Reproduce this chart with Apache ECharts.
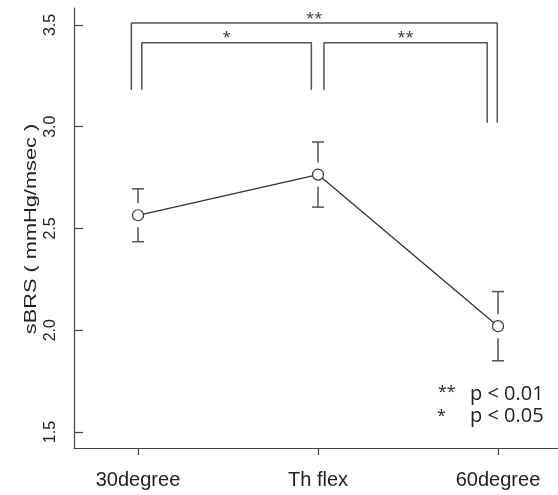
<!DOCTYPE html>
<html>
<head>
<meta charset="utf-8">
<script src="https://cdn.jsdelivr.net/npm/echarts@6/dist/echarts.min.js"></script>
<style>
html,body{margin:0;padding:0;background:#fff;}
#c{width:558px;height:495px;}
</style>
</head>
<body>
<div id="c"></div>
<script>
// ---- data ----
const categories = ['30degree', 'Th flex', '60degree'];
const catPos = [1, 2, 3];
const means = [2.565, 2.765, 2.02];
const upper = [2.695, 2.925, 2.19];
const lower = [2.435, 2.605, 1.85];
const yTicks = [1.5, 2.0, 2.5, 3.0, 3.5];
const yTitle = 'sBRS ( mmHg/msec )';
// significance brackets
const bracketLeft = [0.963, 1.021, 2.033];
const bracketRight = [2.996, 1.963, 2.94];
const bracketTop = [3.51, 3.413, 3.413];
const bracketLeftEnd = [3.18, 3.18, 3.18];
const bracketRightEnd = [3.02, 3.18, 3.02];
const bracketLabels = ['**', '*', '**'];
const legendMarks = ['**', '*'];
const legendTexts = ['p < 0.01', 'p < 0.05'];

const chart = echarts.init(document.getElementById('c'), null, {renderer: 'canvas'});

const lineColor = '#444';
const textColor = '#222';

const meanData = catPos.map((x, i) => [x, means[i]]);
const errData = catPos.map((x, i) => [x, means[i], lower[i], upper[i]]);

const bracketSeries = bracketLeft.map((xl, i) => ({
  type: 'line',
  data: [[xl, bracketLeftEnd[i]], [xl, bracketTop[i]], [bracketRight[i], bracketTop[i]], [bracketRight[i], bracketRightEnd[i]]],
  symbol: 'none',
  lineStyle: {color: '#555', width: 1.5},
  silent: true,
  z: 1
}));

const starData = bracketLeft.map((xl, i) => [(xl + bracketRight[i]) / 2, bracketTop[i], bracketLabels[i]]);

chart.setOption({
  animation: false,
  grid: {left: 74, right: 0, top: 8, bottom: 47},
  xAxis: {
    type: 'value',
    min: 0.6444,
    max: 3.3333,
    splitLine: {show: false},
    axisLine: {show: true, lineStyle: {color: lineColor, width: 1.2}},
    axisTick: {show: true, length: 7, customValues: catPos, lineStyle: {color: lineColor, width: 1.2}},
    axisLabel: {
      customValues: catPos,
      margin: 22,
      fontFamily: 'Liberation Sans, Arial, sans-serif',
      fontSize: 20,
      color: textColor,
      formatter: v => categories[catPos.indexOf(Math.round(v))] || ''
    }
  },
  yAxis: {
    type: 'value',
    min: 1.4214,
    max: 3.5835,
    splitLine: {show: false},
    axisLine: {show: true, lineStyle: {color: lineColor, width: 1.2}},
    axisTick: {show: true, inside: true, length: 9, customValues: yTicks, lineStyle: {color: lineColor, width: 1.2}},
    axisLabel: {
      customValues: yTicks,
      rotate: 90,
      margin: 15,
      fontFamily: 'Liberation Sans, Arial, sans-serif',
      fontSize: 16,
      color: textColor,
      formatter: v => v.toFixed(1)
    }
  },
  graphic: [
    {type: 'text', x: 31, y: 229, rotation: Math.PI / 2, scaleX: 1.28, scaleY: 1,
     style: {text: yTitle, font: '17px "Liberation Sans", Arial, sans-serif', fill: textColor, align: 'center', verticalAlign: 'middle'}},
    {type: 'text', left: 438, top: 384, style: {text: legendMarks[0], font: '16px "Open Sans"', fill: '#222'}},
    {type: 'text', left: 470, top: 384, style: {text: legendTexts[0], font: '20px "Open Sans"', fill: '#222'}},
    {type: 'text', left: 437, top: 408, style: {text: legendMarks[1], font: '16px "Open Sans"', fill: '#222'}},
    {type: 'text', left: 470, top: 406, style: {text: legendTexts[1], font: '20px "Open Sans"', fill: '#222'}}
  ],
  series: [
    ...bracketSeries,
    {
      type: 'custom',
      silent: true,
      z: 2,
      data: starData,
      renderItem: (params, api) => {
        const p = api.coord([api.value(0), api.value(1)]);
        return {
          type: 'text',
          x: p[0], y: p[1] + 3,
          style: {text: starData[params.dataIndex][2], font: '15px "Open Sans"', fill: '#333', align: 'center', verticalAlign: 'bottom'}
        };
      }
    },
    {
      type: 'custom',
      silent: true,
      z: 3,
      data: errData,
      renderItem: (params, api) => {
        const c = api.coord([api.value(0), api.value(1)]);
        const lo = api.coord([api.value(0), api.value(2)]);
        const hi = api.coord([api.value(0), api.value(3)]);
        const gap = 12, cap = 6;
        const st = {stroke: '#555', lineWidth: 1.5};
        return {
          type: 'group',
          children: [
            {type: 'line', shape: {x1: c[0], y1: hi[1], x2: c[0], y2: c[1] - gap}, style: st},
            {type: 'line', shape: {x1: c[0] - cap, y1: hi[1], x2: c[0] + cap, y2: hi[1]}, style: st},
            {type: 'line', shape: {x1: c[0], y1: lo[1], x2: c[0], y2: c[1] + gap}, style: st},
            {type: 'line', shape: {x1: c[0] - cap, y1: lo[1], x2: c[0] + cap, y2: lo[1]}, style: st}
          ]
        };
      }
    },
    {
      type: 'line',
      data: meanData,
      symbol: 'circle',
      symbolSize: 11,
      itemStyle: {color: '#fff', borderColor: '#333', borderWidth: 1.2},
      lineStyle: {color: '#333', width: 1.3},
      z: 4
    }
  ]
});
</script>
</body>
</html>
